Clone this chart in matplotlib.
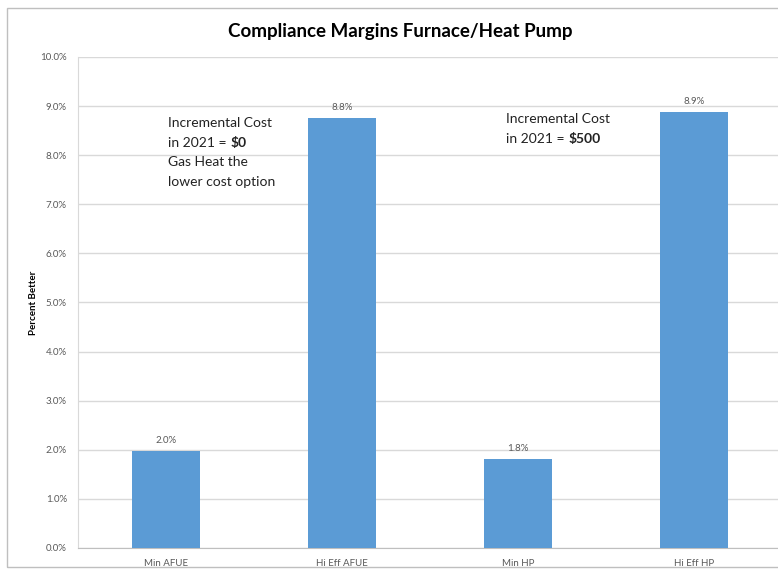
import matplotlib.pyplot as plt
from matplotlib.patches import Rectangle

# Datos
categorias = ["Min AFUE", "Hi Eff AFUE", "Min HP", "Hi Eff HP"]
margenes = [1.97, 8.76, 1.81, 8.88]
ticks_y = [0, 1, 2, 3, 4, 5, 6, 7, 8, 9, 10]

plt.rcParams['font.family'] = ['Lato', 'DejaVu Sans']

fig = plt.figure(figsize=(7.78, 5.74), dpi=100)
ax = fig.add_axes([0.1003, 0.0453, 0.905, 0.8554])

# Marco exterior
fig.patches.append(Rectangle((0.009, 0.012), 1.2, 0.974, transform=fig.transFigure,
                             fill=False, edgecolor="#bfbfbf", linewidth=1.0))

x = range(len(categorias))
ax.bar(x, margenes, width=0.39, color="#5B9BD5", zorder=3)
for xi, v in zip(x, margenes):
    ax.text(xi, v + 0.12, f"{v:.1f}%", ha="center", va="bottom",
            fontsize=7, color="#595959")

ax.set_xlim(-0.5, 3.5)
ax.set_ylim(0, 10)
ax.set_yticks(ticks_y)
ax.set_yticklabels([f"{t:.1f}%" for t in ticks_y])
ax.set_xticks(list(x))
ax.set_xticklabels(categorias)
ax.tick_params(axis="both", labelsize=7, colors="#595959", length=0)
ax.tick_params(axis="x", pad=8)
ax.tick_params(axis="y", pad=8)
ax.grid(axis="y", color="#d9d9d9", linewidth=1.0, zorder=0)

ax.spines["top"].set_visible(False)
ax.spines["right"].set_visible(False)
ax.spines["left"].set_color("#d9d9d9")
ax.spines["bottom"].set_color("#bfbfbf")

ax.set_ylabel("Percent Better", fontsize=7, fontweight="bold", labelpad=2)

fig.text(0.515, 0.945, "Compliance Margins Furnace/Heat Pump", ha="center",
         va="center", fontsize=13.5, fontweight="bold")


# Notas: cada linea por separado, con el importe en negrita
def nota(x0, y0, texto, negrita=None):
    t = ax.text(x0, y0, texto, ha="left", va="center", fontsize=10, color="#222222")
    if negrita:
        ax.annotate(negrita, xy=(1, 0.5), xycoords=t, xytext=(3, 0),
                    textcoords="offset points", ha="left", va="center",
                    fontsize=10, fontweight="bold", color="#222222")


nota(0.01, 8.65, "Incremental Cost")
nota(0.01, 8.24, "in 2021 =", "$0")
nota(0.01, 7.86, "Gas Heat the")
nota(0.01, 7.46, "lower cost option")
nota(1.93, 8.73, "Incremental Cost")
nota(1.93, 8.32, "in 2021 =", "$500")

fig.savefig("out.png", dpi=100)
